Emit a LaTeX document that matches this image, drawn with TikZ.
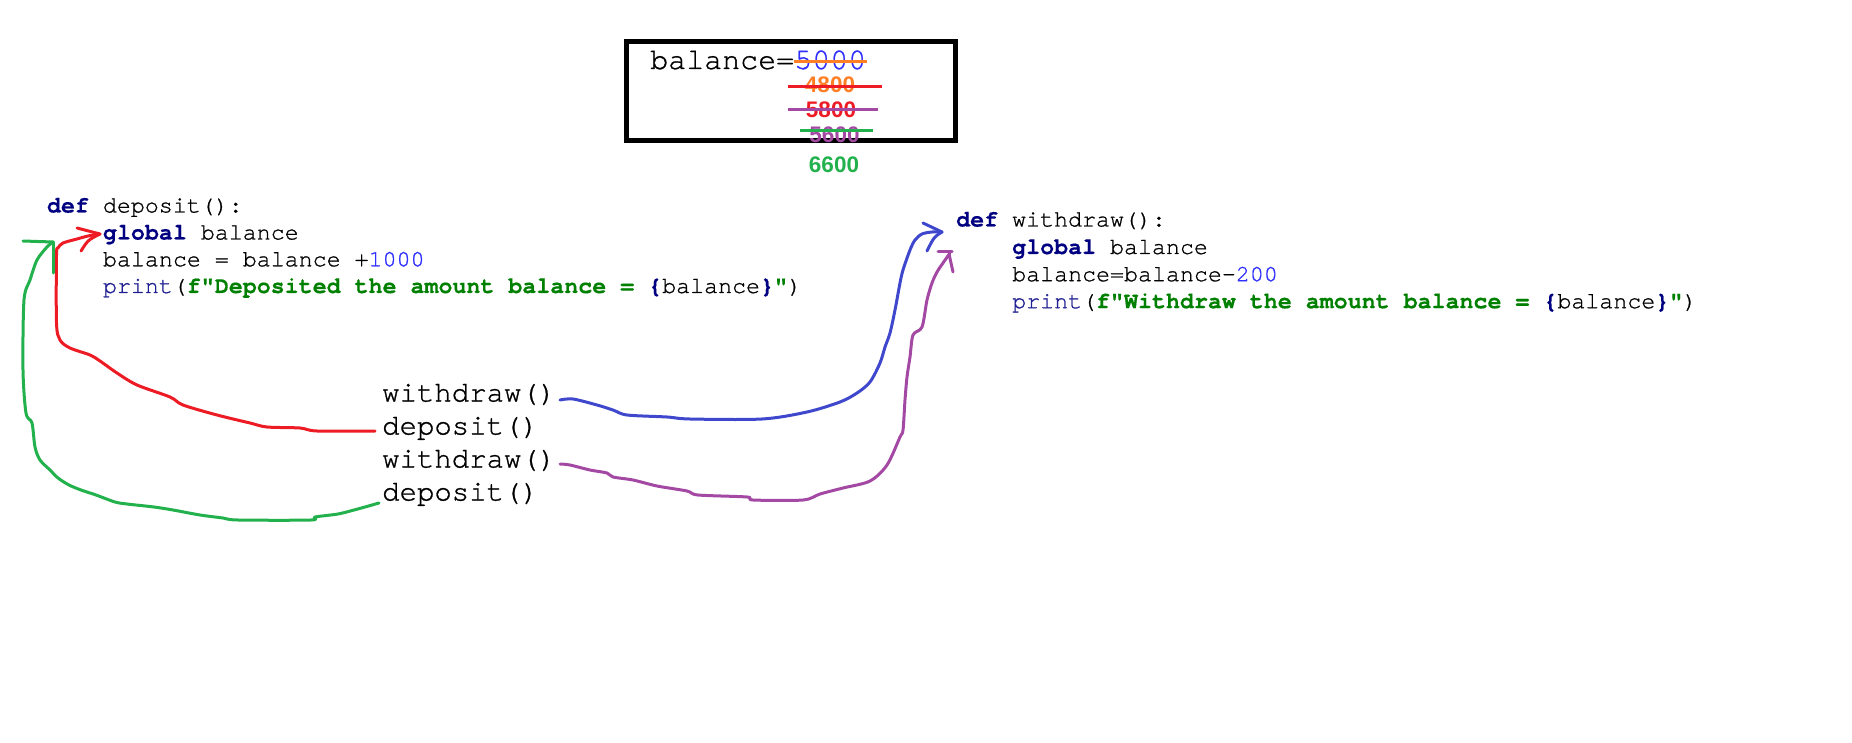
\documentclass[tikz,border=0pt]{standalone}
\usepackage{fontspec}
\setmonofont{TeX Gyre Cursor}[UprightFeatures={FakeBold=0.9}, BoldFeatures={FakeBold=0.4}]
\newfontfamily\sansf{Liberation Sans}
\definecolor{kwc}{HTML}{000080}
\definecolor{bic}{HTML}{1E1E90}
\definecolor{strc}{HTML}{008000}
\definecolor{numc}{HTML}{2F2FFF}
\definecolor{pred}{HTML}{ED1C24}
\definecolor{porange}{HTML}{FF7F27}
\definecolor{ppurple}{HTML}{A349A4}
\definecolor{pgreen}{HTML}{22B14C}
\definecolor{pblue}{HTML}{3F48CC}
\newcommand\cKw[1]{{\bfseries\color{kwc}#1}}
\newcommand\cStr[1]{{\bfseries\color{strc}#1}}
\newcommand\cNum[1]{{\color{numc}#1}}
\newcommand\cBi[1]{{\color{bic}#1}}
\tikzset{
  code/.style={anchor=base west, inner sep=0pt, font=\ttfamily\fontsize{23.3}{28}\selectfont},
  lbl/.style={anchor=base west, inner sep=0pt, font=\ttfamily\fontsize{29}{34}\selectfont},
  dig/.style={inner sep=0pt, font=\sansf\bfseries\fontsize{22.5}{27}\selectfont},
  hand/.style={line width=3pt, line cap=round, line join=round},
  strike/.style={line width=3pt}
}
\begin{document}
\begin{tikzpicture}[x=1pt,y=-1pt]
\useasboundingbox (0,0) rectangle (1852,743);
% balance box
\draw[line width=5pt] (626.5,41.5) rectangle (955.5,140.5);
\node[anchor=base west, inner sep=0pt, font=\ttfamily\fontsize{30}{36}\selectfont] (bal) at (650,69) {balance=\textcolor{numc}{5000}};
\node[dig, text=porange] (n1) at (830,85) {4800};
\node[dig, text=pred] (n2) at (831,110) {5800};
\node[dig, text=ppurple] (n3) at (834.5,134.5) {5600};
\node[dig, text=pgreen] (n4) at (834,165) {6600};
\draw[strike, porange] (794,62) -- (867,62);
\draw[strike, pred] (788,87) -- (882,87);
\draw[strike, ppurple] (788,110) -- (878,110);
\draw[strike, pgreen] (800,131) -- (873,131);
% deposit code
\node[code] (d1) at (46.8,212.5) {\cKw{def} deposit():};
\node[code] (d2) at (102.8,239.5) {\cKw{global} balance};
\node[code] (d3) at (102.8,266.3) {balance = balance +\cNum{1000}};
\node[code] (d4) at (102.8,293) {\cBi{print}(\cStr{f"Deposited the amount balance = }\cKw{\{}balance\cKw{\}}\cStr{"})};
% withdraw code
\node[code] (w1) at (956,226.5) {\cKw{def} withdraw():};
\node[code] (w2) at (1012,254) {\cKw{global} balance};
\node[code] (w3) at (1012,281.2) {balance=balance-\cNum{200}};
\node[code] (w4) at (1012,308.2) {\cBi{print}(\cStr{f"Withdraw the amount balance = }\cKw{\{}balance\cKw{\}}\cStr{"})};
% call labels
\node[lbl] (c1) at (382,401.5) {withdraw()};
\node[lbl] (c2) at (382,434.5) {deposit()};
\node[lbl] (c3) at (382,467.5) {withdraw()};
\node[lbl] (c4) at (382,500.5) {deposit()};
% connector end points
\coordinate (bs) at (560,400);
\coordinate (bt) at (942,232);
\coordinate (ps) at (560,464);
\coordinate (pt) at (950,253);
\coordinate (rs) at (375,431);
\coordinate (rt) at (100,234);
\coordinate (gs) at (379,503);
\coordinate (gt) at (53,242);
% blue
\draw[hand, pblue] plot[smooth, tension=0.5] coordinates {(bs) (573,399) (597,405) (613,410) (627,415) (667,417) (690,419) (762,419) (807,412) (840,402) (857,393) (870,382) (880,363) (885,347) (890,333) (895,310) (900,283) (903,270) (910,250) (915,240) (922,234) (932,232) (bt)};
\draw[hand, pblue] (923,223) -- (bt);
\draw[hand, pblue] (bt) .. controls (934,237) .. (927,251);
% purple
\draw[hand, ppurple] plot[smooth, tension=0.5] coordinates {(ps) (570,465) (590,470) (607,473) (613,477) (633,480) (657,486) (687,491) (698,495) (747,497) (753,500) (803,500) (820,494) (843,488) (870,481) (887,465) (900,437) (903,430) (905,400) (907,377) (910,357) (913,335) (922,327) (927,300) (932,283) (937,272) (943,263) (pt)};
\draw[hand, ppurple] (938,252) -- (952,252);
\draw[hand, ppurple] (949,254) -- (953,272);
% red
\draw[hand, pred] plot[smooth, tension=0.5] coordinates {(rs) (317,431) (300,428) (267,427) (250,423) (217,415) (183,405) (170,397) (137,385) (117,373) (100,361) (90,355) (70,348) (60,340) (56.5,323) (56.5,255) (58,248) (63,243) (77,239) (88,236) (rt)};
\draw[hand, pred] (77,228) -- (rt);
\draw[hand, pred] (rt) .. controls (88,240) .. (81,251);
% green
\draw[hand, pgreen] plot[smooth, tension=0.5] coordinates {(gs) (365,507) (354,510) (338,514) (315,517) (311,520) (238,520) (223,518) (200,515) (173,510) (154,507) (127,504) (115,502) (96,495) (81,490) (69,485) (58,478) (50,470) (40,460) (35,447) (32,423) (26,413) (23,370) (24,300) (30,280) (37,260) (47,247) (gt)};
\draw[hand, pgreen] (23,241) -- (gt);
\draw[hand, pgreen] (gt) -- (53,273);
\end{tikzpicture}
\end{document}
